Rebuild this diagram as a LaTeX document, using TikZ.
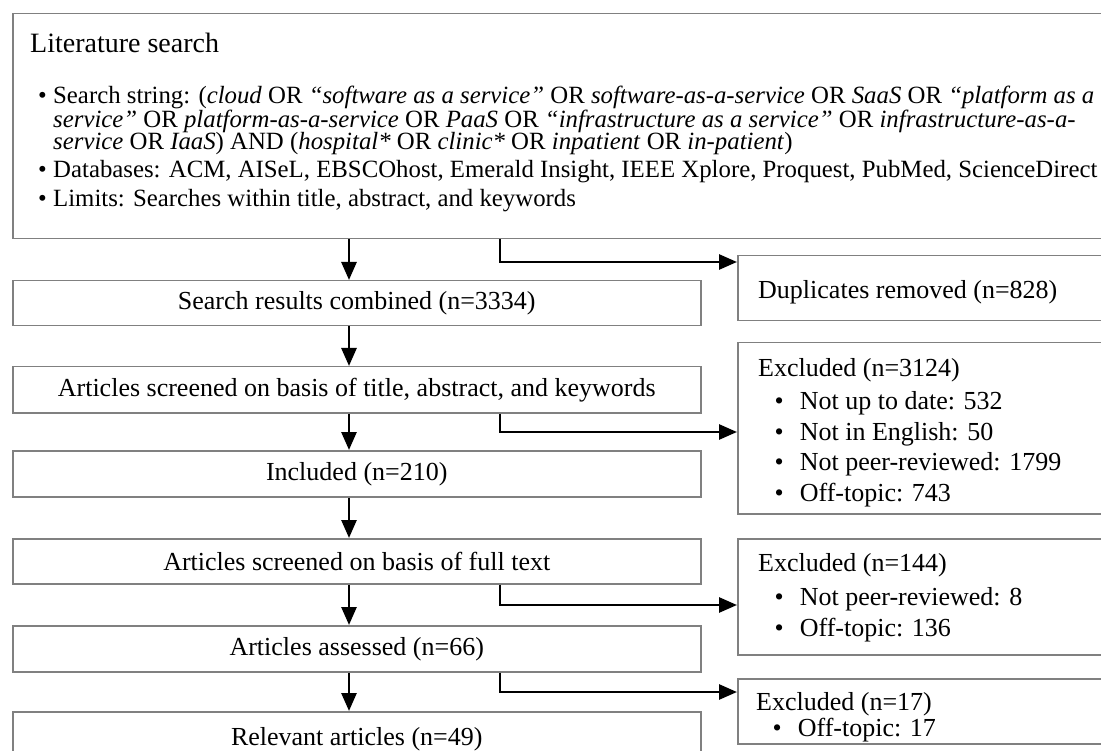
\documentclass[tikz,border=0pt]{standalone}
\usepackage{fontspec}
\setmainfont{Liberation Serif}
\usetikzlibrary{arrows.meta}

\newcommand{\itm}[1]{\hspace*{16.5pt}\textbullet\hspace{16pt}#1}
\newcommand{\bul}{\llap{\textbullet\hspace{6.5pt}}}

\tikzset{
    box/.style={draw=black!50, line width=1.5pt, inner sep=0pt, anchor=north west},
    arr/.style={line width=2.8pt, -{Triangle[length=18pt,width=15pt]}},
    txt/.style={font=\fontsize{26}{30.5}\selectfont, inner sep=0pt},
    lst/.style={font=\fontsize{24.8}{22.5}\selectfont, inner sep=0pt, align=left}
}

\begin{document}
\begin{tikzpicture}[x=1pt,y=-1pt]
    \useasboundingbox (0,0) rectangle (1101,751);
    \clip (0,0) rectangle (1101,751);

    % literature search
    \node[box, minimum width=1120pt, minimum height=225pt] (lit) at (12,13) {};
    \node[txt, anchor=west, font=\fontsize{28}{30}\selectfont] (littitle) at (30,43) {Literature search};
    \node[lst, anchor=north west] (litlist) at (53,86) {%
        \bul Search string: (\textit{cloud} OR \textit{“software as a service”} OR \textit{software-as-a-service} OR \textit{SaaS} OR \textit{“platform as a}\\
        \textit{service”} OR \textit{platform-as-a-service} OR \textit{PaaS} OR \textit{“infrastructure as a service”} OR \textit{infrastructure-as-a-}\\
        \textit{service} OR \textit{IaaS}) AND (\textit{hospital*} OR \textit{clinic*} OR \textit{inpatient} OR \textit{in-patient})\\[5pt]
        \bul Databases: ACM, AISeL, EBSCOhost, Emerald Insight, IEEE Xplore, Proquest, PubMed, ScienceDirect\\[5pt]
        \bul Limits: Searches within title, abstract, and keywords};

    % main column
    \node[box, txt, minimum width=688pt, minimum height=45pt] (comb) at (12,280) {Search results combined (n=3334)};
    \node[box, txt, minimum width=688pt, minimum height=46pt] (scr1) at (12,366) {Articles screened on basis of title, abstract, and keywords};
    \node[box, txt, minimum width=688pt, minimum height=46pt] (incl) at (12,450) {Included (n=210)};
    \node[box, txt, minimum width=688pt, minimum height=45pt] (scr2) at (12,538) {Articles screened on basis of full text};
    \node[box, txt, minimum width=688pt, minimum height=46pt] (asse) at (12,625) {Articles assessed (n=66)};
    \node[box, txt, minimum width=688pt, minimum height=54pt] (rele) at (12,711) {Relevant articles (n=49)};

    % side column
    \node[box, minimum width=390pt, minimum height=65pt] (dup) at (737,255) {};
    \node[txt, anchor=west] (duptxt) at (758,292) {Duplicates removed (n=828)};
    \node[box, minimum width=390pt, minimum height=171pt] (exc1) at (737,342) {};
    \node[txt, anchor=north west, align=left] (exc1txt) at (758,358) {Excluded (n=3124)\\[3pt]
        \itm{Not up to date: 532}\\ \itm{Not in English: 50}\\ \itm{Not peer-reviewed: 1799}\\ \itm{Off-topic: 743}};
    \node[box, minimum width=390pt, minimum height=116pt] (exc2) at (737,538) {};
    \node[txt, anchor=north west, align=left] (exc2txt) at (758,553) {Excluded (n=144)\\[4pt]
        \itm{Not peer-reviewed: 8}\\ \itm{Off-topic: 136}};
    \node[box, minimum width=390pt, minimum height=65pt] (exc3) at (737,678) {};
    \node[txt, anchor=north west, align=left, font=\fontsize{26}{26}\selectfont] (exc3txt) at (756,692.5) {Excluded (n=17)\\
        \itm{Off-topic: 17}};

    % arrows
    \coordinate (ax) at (349,0);
    \draw[arr] (lit.south -| ax) -- (comb.north -| ax);
    \draw[arr] (comb.south -| ax) -- (scr1.north -| ax);
    \draw[arr] (scr1.south -| ax) -- (incl.north -| ax);
    \draw[arr] (incl.south -| ax) -- (scr2.north -| ax);
    \draw[arr] (scr2.south -| ax) -- (asse.north -| ax);
    \draw[arr] (asse.south -| ax) -- (rele.north -| ax);

    \coordinate (k1) at (500,262);
    \coordinate (k2) at (500,432);
    \coordinate (k3) at (500,605);
    \coordinate (k4) at (500,692);
    \draw[arr] (lit.south -| k1) |- (dup.west |- k1);
    \draw[arr] (scr1.south -| k2) |- (exc1.west |- k2);
    \draw[arr] (scr2.south -| k3) |- (exc2.west |- k3);
    \draw[arr] (asse.south -| k4) |- (exc3.west |- k4);
\end{tikzpicture}
\end{document}
